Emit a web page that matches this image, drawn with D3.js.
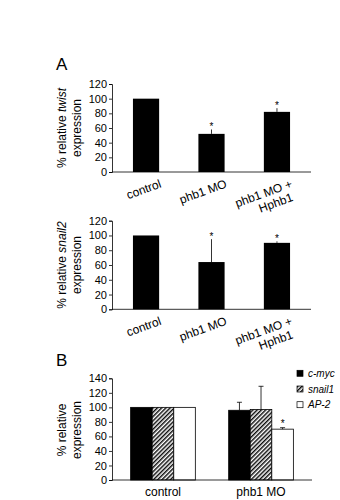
<!DOCTYPE html>
<html><head><meta charset="utf-8">
<script src="https://cdn.jsdelivr.net/npm/d3@7"></script>
<style>body{margin:0;background:#fff}svg{display:block}text{font-family:"Liberation Sans",Arial,sans-serif;fill:#000}</style>
</head><body>
<script>
const catsA = ["control", "phb1 MO", "phb1 MO +|Hphb1"];
const twistVals = [100, 52, 82];
const twistErr = [100, 58, 87];
const twistSig = [false, true, true];
const snailVals = [100, 64, 90];
const snailErr = [100, 95, 92];
const snailSig = [false, true, true];
const ticksA = [0, 20, 40, 60, 80, 100, 120];

const groupsB = ["control", "phb1 MO"];
const seriesB = ["c-myc", "snail1", "AP-2"];
const valsB = { "c-myc": [100, 96], "snail1": [100, 97], "AP-2": [100, 70] };
const errB = { "c-myc": [100, 107], "snail1": [100, 129], "AP-2": [100, 72] };
const sigB = { "c-myc": [false, false], "snail1": [false, false], "AP-2": [false, true] };
const ticksB = [0, 20, 40, 60, 80, 100, 120, 140];

const W = 340, H = 500;
const svg = d3.select("body").append("svg").attr("width", W).attr("height", H);
const defs = svg.append("defs");
const pat = defs.append("pattern").attr("id", "hatch").attr("patternUnits", "userSpaceOnUse")
  .attr("width", 3).attr("height", 3).attr("patternTransform", "rotate(45)");
pat.append("rect").attr("width", 3).attr("height", 3).attr("fill", "#fff");
pat.append("line").attr("x1", 0.75).attr("y1", 0).attr("x2", 0.75).attr("y2", 3).attr("stroke", "#000").attr("stroke-width", 1.4);

svg.append("text").attr("x", 56).attr("y", 70).attr("font-size", 17).text("A");
svg.append("text").attr("x", 56).attr("y", 366).attr("font-size", 17).text("B");

function yAxis(g, y, ticks, x0) {
  const ax = g.append("g").attr("transform", `translate(${x0},0)`)
    .call(d3.axisLeft(y).tickValues(ticks).tickSize(3).tickPadding(2));
  ax.select(".domain").attr("stroke", "#000").attr("stroke-width", 0.8);
  ax.selectAll(".tick line").attr("stroke", "#000").attr("stroke-width", 0.8);
  ax.selectAll("text").attr("font-size", 11).attr("font-family", "Liberation Sans, Arial, sans-serif");
}

function errLine(g, cx, y1, y2) {
  g.append("line").attr("x1", cx).attr("x2", cx).attr("y1", y1).attr("y2", y2).attr("stroke", "#000").attr("stroke-width", 0.8);
}

function panelA(vals, errs, sig, yTop, yBot, labelItalic, labelX) {
  const g = svg.append("g");
  const x = d3.scaleBand().domain(catsA).range([112, 311]).paddingInner(0.6).paddingOuter(0.32);
  const y = d3.scaleLinear().domain([0, 120]).range([yBot, yTop]);
  g.selectAll("rect.bar").data(catsA).enter().append("rect")
    .attr("x", d => x(d)).attr("width", x.bandwidth())
    .attr("y", (d, i) => y(vals[i])).attr("height", (d, i) => y(0) - y(vals[i]))
    .attr("fill", "#000");
  catsA.forEach((c, i) => {
    const cx = x(c) + x.bandwidth() / 2;
    if (errs[i] > vals[i]) errLine(g, cx, y(vals[i]), y(errs[i]));
    if (sig[i]) g.append("text").attr("x", cx).attr("y", y(errs[i]) + 1).attr("text-anchor", "middle").attr("font-size", 10).text("*");
    const lines = c.split("|");
    const t = g.append("text").attr("text-anchor", "end").attr("font-size", 12)
      .attr("transform", `translate(${x(c) + x.bandwidth() + 3},${yBot + 15}) rotate(-20)`);
    lines.forEach((l, j) => t.append("tspan").attr("x", j === 0 ? 0 : -4).attr("dy", j === 0 ? 0 : 13).text(l));
  });
  yAxis(g, y, ticksA, x.range()[0]);
  g.append("line").attr("x1", 112).attr("x2", 311).attr("y1", yBot).attr("y2", yBot).attr("stroke", "#000").attr("stroke-width", 0.8);
  const cy = (yTop + yBot) / 2;
  const t1 = g.append("text").attr("text-anchor", "middle").attr("font-size", 12)
    .attr("transform", `translate(${labelX},${cy}) rotate(-90)`);
  t1.append("tspan").text("% relative ");
  t1.append("tspan").attr("font-style", "italic").text(labelItalic);
  g.append("text").attr("text-anchor", "middle").attr("font-size", 12)
    .attr("transform", `translate(${labelX + 15},${cy}) rotate(-90)`).text("expression");
}

panelA(twistVals, twistErr, twistSig, 84, 172, "twist", 66);
panelA(snailVals, snailErr, snailSig, 220.7, 309.3, "snail2", 66);

// Panel B
(function () {
  const g = svg.append("g");
  const x0 = d3.scaleBand().domain(groupsB).range([112, 312]).paddingInner(0.34).paddingOuter(0.19);
  const x1 = d3.scaleBand().domain(seriesB).range([0, x0.bandwidth()]);
  const y = d3.scaleLinear().domain([0, 140]).range([480, 378.3]);
  const fills = { "c-myc": "#000", "snail1": "url(#hatch)", "AP-2": "#fff" };
  groupsB.forEach((grp, gi) => {
    seriesB.forEach(s => {
      const bx = x0(grp) + x1(s);
      const v = valsB[s][gi], e = errB[s][gi];
      g.append("rect").attr("x", bx).attr("width", x1.bandwidth())
        .attr("y", y(v)).attr("height", y(0) - y(v))
        .attr("fill", fills[s]).attr("stroke", "#000").attr("stroke-width", 0.8);
      const cx = bx + x1.bandwidth() / 2;
      if (e > v) {
        errLine(g, cx, y(v), y(e));
        g.append("line").attr("x1", cx - 2.5).attr("x2", cx + 2.5).attr("y1", y(e)).attr("y2", y(e)).attr("stroke", "#000").attr("stroke-width", 0.8);
      }
      if (sigB[s][gi]) g.append("text").attr("x", cx).attr("y", y(e) - 0.5).attr("text-anchor", "middle").attr("font-size", 10).text("*");
    });
    g.append("text").attr("x", x0(grp) + x0.bandwidth() / 2).attr("y", 496).attr("text-anchor", "middle").attr("font-size", 12).text(grp);
  });
  yAxis(g, y, ticksB, 112);
  g.append("line").attr("x1", 112).attr("x2", 312).attr("y1", 480).attr("y2", 480).attr("stroke", "#000").attr("stroke-width", 0.8);
  const cy = 430;
  g.append("text").attr("text-anchor", "middle").attr("font-size", 12)
    .attr("transform", `translate(66,${cy}) rotate(-90)`).text("% relative");
  g.append("text").attr("text-anchor", "middle").attr("font-size", 12)
    .attr("transform", `translate(81,${cy}) rotate(-90)`).text("expression");
  // legend
  const lg = g.append("g");
  seriesB.forEach((s, i) => {
    const ly = 373.3 + i * 15.7;
    lg.append("rect").attr("x", 297).attr("y", ly - 3).attr("width", 6).attr("height", 6)
      .attr("fill", fills[s]).attr("stroke", "#000").attr("stroke-width", 0.7);
    lg.append("text").attr("x", 308).attr("y", ly + 3.5).attr("font-size", 10).attr("font-style", "italic").text(s);
  });
})();
</script>
</body></html>
